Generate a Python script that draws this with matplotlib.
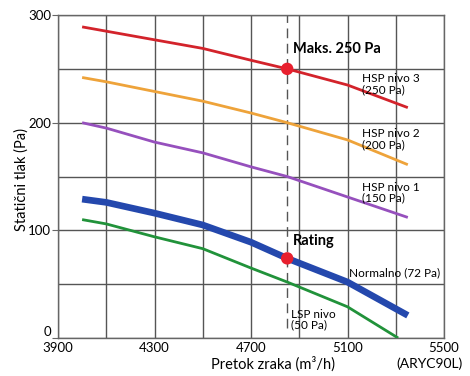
import numpy as np
import matplotlib.pyplot as plt
from matplotlib.ticker import FixedLocator

plt.rcParams['font.family'] = ['Lato', 'DejaVu Sans']

# protok zraka (m3/h)
protok = [4000, 4100, 4300, 4500, 4700, 4850, 5100, 5350]
hsp3 = [289, 285, 277, 269, 258, 250, 235, 214]
hsp2 = [242, 238, 229, 220, 209, 200, 184, 161]
hsp1 = [200, 195, 182, 172, 159, 150, 131, 112]
normalno = [129, 126, 116, 105, 89, 74, 52, 21]
protok_lsp = [4000, 4100, 4300, 4500, 4700, 4850, 5100, 5310]
lsp = [110, 106, 94, 83, 65, 52, 29, 0]

x_oznake = [3900, 4300, 4700, 5100, 5500]
x_mreza = [3900, 4100, 4300, 4500, 4700, 4900, 5100, 5300, 5500]
y_oznake = [0, 100, 200, 300]
y_mreza = [0, 50, 100, 150, 200, 250, 300]

rating_x = 4850
tocke_y = [250, 74]

fig = plt.figure(figsize=(4.7, 3.76), dpi=100)
ax = fig.add_axes([0.1234, 0.101, 0.8213, 0.859])

ax.plot(protok, hsp3, color='#d3232b', lw=2.0, solid_capstyle='butt', zorder=3)
ax.plot(protok, hsp2, color='#eea33a', lw=2.0, solid_capstyle='butt', zorder=3)
ax.plot(protok, hsp1, color='#9650bd', lw=2.0, solid_capstyle='butt', zorder=3)
ax.plot(protok, normalno, color='#2448ad', lw=4.8, solid_capstyle='butt', zorder=3)
ax.plot(protok_lsp, lsp, color='#21923a', lw=2.0, solid_capstyle='butt', zorder=3)

# isprekidana linija kroz radne tocke
ax.plot([rating_x, rating_x], [9, 300], color='#555555', lw=1.0,
        linestyle=(0, (7, 4)), zorder=2)
ax.scatter([rating_x] * len(tocke_y), tocke_y, s=80, color='#e8202e', zorder=4,
           edgecolors='none')

ax.set_xlim(3900, 5500)
ax.set_ylim(0, 300)
ax.xaxis.set_major_locator(FixedLocator(x_oznake))
ax.xaxis.set_minor_locator(FixedLocator(x_mreza))
ax.yaxis.set_major_locator(FixedLocator(y_oznake))
ax.yaxis.set_minor_locator(FixedLocator(y_mreza))
ax.grid(True, which='both', color='#555555', lw=1.0)
ax.set_axisbelow(True)
for s in ax.spines.values():
    s.set_color('#666666')
    s.set_linewidth(1.0)
ax.tick_params(axis='x', which='both', length=0, pad=3, labelsize=9.5)
ax.tick_params(axis='y', which='major', length=4, color='#666666', pad=1,
               labelsize=9.5)
ax.tick_params(axis='y', which='minor', length=0)
# "0" malo iznad oznake 3900
ax.yaxis.get_major_ticks()[0].label1.set_va('bottom')

ax.set_xlabel('Pretok zraka (m³/h)', fontsize=10.5)
ax.xaxis.set_label_coords(0.557, -0.058)
ax.set_ylabel('Statični tlak (Pa)', fontsize=10.5)
ax.yaxis.set_label_coords(-0.075, 0.49)

fig.text(463 / 470, 1 - 364 / 376, '(ARYC90L)', fontsize=10, ha='right',
         va='center')

ax.text(4875, 262, 'Maks. 250 Pa', fontsize=10.5, fontweight='bold', va='bottom')
ax.text(4875, 84, 'Rating', fontsize=10.5, fontweight='bold', va='bottom')
ax.text(5160, 236, 'HSP nivo 3\n(250 Pa)', fontsize=8.5, va='center',
        linespacing=1.0)
ax.text(5160, 185, 'HSP nivo 2\n(200 Pa)', fontsize=8.5, va='center',
        linespacing=1.0)
ax.text(5160, 135, 'HSP nivo 1\n(150 Pa)', fontsize=8.5, va='center',
        linespacing=1.0)
ax.text(5105, 61, 'Normalno (72 Pa)', fontsize=8.5, va='center', ha='left')
ax.text(4865, 17, 'LSP nivo\n(50 Pa)', fontsize=8.5, va='center',
        linespacing=1.0)

fig.savefig('out.png', dpi=100)
